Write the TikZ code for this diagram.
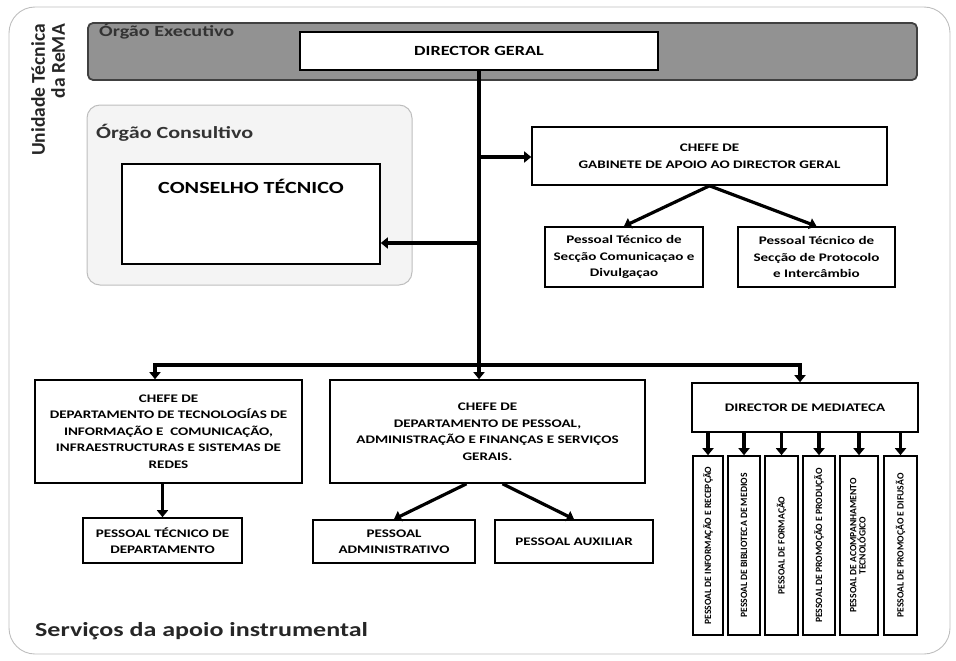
\documentclass[tikz,border=0pt]{standalone}
\usepackage{fontspec}
\usepackage{graphicx}
\newfontfamily\orgfont{Carlito}[FakeStretch=1.3]
\newfontfamily\orgplain{Carlito}
\usetikzlibrary{arrows.meta,shadows}
\definecolor{bandgray}{RGB}{146,146,146}
\definecolor{panelgray}{RGB}{244,244,244}
\definecolor{framegray}{RGB}{190,190,190}
\tikzset{
  box/.style={draw=black, line width=1.6pt, fill=white, align=center, inner sep=2pt,
    font=\orgfont\bfseries\fontsize{11.6}{16.5}\selectfont,
    drop shadow={shadow xshift=1.4pt, shadow yshift=-1.4pt, fill=black!65, opacity=1}},
  colbox/.style={box, font=\orgplain\bfseries\fontsize{9.6}{10}\selectfont, minimum height=179},
  link/.style={line width=3.4pt, line cap=butt},
  arr/.style={line width=3.2pt, -{Triangle[length=7pt,width=11pt]}},
  heading/.style={inner sep=0pt, text=black!85}
}
\begin{document}
\begin{tikzpicture}[x=1pt,y=-1pt]
\useasboundingbox (0,0) rectangle (956,661);
% outer frame of the unit
\draw[framegray, line width=0.9pt, rounded corners=26pt] (9,7) rectangle (950,654);
\node[heading, rotate=90, anchor=east, align=right,
  font=\orgplain\bfseries\fontsize{19.5}{20}\selectfont] (unit) at (48,24)
  {Unidade Técnica\\da ReMA};

% executive band
\node[fill=bandgray, draw=black!75, line width=1.8pt, rounded corners=5pt,
  minimum width=829, minimum height=57, inner sep=0pt] (exec) at (502.5,51.5) {};
\node[heading, anchor=base west, font=\orgfont\bfseries\fontsize{15.5}{17}\selectfont,
  text=black!80] (execlbl) at (99,37) {Órgão Executivo};
\node[box, minimum width=358, minimum height=38, font=\orgfont\bfseries\fontsize{14}{16}\selectfont]
  (dg) at (479,51) {DIRECTOR GERAL};

% consultative body
\node[fill=panelgray, draw=framegray, line width=1pt, rounded corners=13pt,
  minimum width=325, minimum height=180, inner sep=0pt] (consult) at (249.5,195) {};
\node[heading, anchor=base west, font=\orgfont\bfseries\fontsize{17}{19}\selectfont,
  text=black!80] (consultlbl) at (96,138) {Órgão Consultivo};
\node[box, minimum width=258, minimum height=100,
  label={[name=cttext, anchor=north, yshift=-12pt, font=\orgfont\bfseries\fontsize{17}{19}\selectfont]north:CONSELHO TÉCNICO}]
  (ct) at (251,214) {};

% cabinet
\node[box, minimum width=355, minimum height=58] (gab) at (709.5,156)
  {CHEFE DE\\GABINETE DE APOIO AO DIRECTOR GERAL};
\node[box, minimum width=158, minimum height=60] (pc1) at (624,257)
  {Pessoal Técnico de\\Secção Comunicaçao e\\Divulgaçao};
\node[box, minimum width=157, minimum height=60] (pc2) at (816.5,257)
  {Pessoal Técnico de\\Secção de Protocolo\\e Intercâmbio};

% departments
\node[box, minimum width=267, minimum height=103] (ti) at (168.5,431.5)
  {CHEFE DE\\DEPARTAMENTO DE TECNOLOGÍAS DE\\INFORMAÇÃO E \ COMUNICAÇÃO,\\INFRAESTRUCTURAS E SISTEMAS DE\\REDES};
\node[box, minimum width=159, minimum height=45] (ptd) at (162.5,540.5)
  {PESSOAL TÉCNICO DE\\DEPARTAMENTO};
\node[box, minimum width=315, minimum height=103] (pa) at (487.5,431.5)
  {CHEFE DE\\DEPARTAMENTO DE PESSOAL,\\ADMINISTRAÇÃO E FINANÇAS E SERVIÇOS\\GERAIS.};
\node[box, minimum width=162, minimum height=43] (padm) at (394,541.5)
  {PESSOAL\\ADMINISTRATIVO};
\node[box, minimum width=158, minimum height=43] (paux) at (574,541.5)
  {PESSOAL AUXILIAR};

% media library
\node[box, minimum width=226, minimum height=49] (med) at (805,407.5)
  {DIRECTOR DE MEDIATECA};
\node[colbox, minimum width=30] (m1) at (708,545.5)
  {\rotatebox{90}{PESSOAL DE INFORMAÇÃO E RECEPÇÃO}};
\node[colbox, minimum width=32] (m2) at (744,545.5)
  {\rotatebox{90}{PESSOAL DE BIBLIOTECA DE MEDIOS}};
\node[colbox, minimum width=33] (m3) at (781.5,545.5)
  {\rotatebox{90}{PESSOAL DE FORMAÇÃO}};
\node[colbox, minimum width=32] (m4) at (819,545.5)
  {\rotatebox{90}{PESSOAL DE PROMOÇÃO E PRODUÇÃO}};
\node[colbox, minimum width=38] (m5) at (859,545.5)
  {\rotatebox{90}{\begin{tabular}{@{}c@{}}PESSOAL DE ACOMPANHAMENTO\\[-2pt]TECNOLÓGICO\end{tabular}}};
\node[colbox, minimum width=33] (m6) at (900.5,545.5)
  {\rotatebox{90}{PESSOAL DE PROMOÇÃO E DIFUSÃO}};

\node[heading, anchor=base west, font=\orgfont\bfseries\fontsize{20}{22}\selectfont,
  text=black!85] (serv) at (35,636) {Serviços da apoio instrumental};

% connectors
\coordinate (busL) at (155,365);
\coordinate (busM) at (479,365);
\coordinate (busR) at (800,365);
\coordinate (jg) at (479,157);
\coordinate (jc) at (479,243);
\draw[link] (dg.south) -- (busM);
\draw[link] (busL) -- (busR);
\draw[arr] (jg) -- (jg -| gab.west);
\draw[arr] (jc) -- (jc -| ct.east);
\draw[arr] (gab.south) -- (pc1.north);
\draw[arr] (gab.south) -- (pc2.north);
\draw[arr] ([yshift=1.7pt]busL) -- (busL |- ti.north);
\draw[arr] ([yshift=1.7pt]busM) -- (busM |- pa.north);
\draw[arr] ([yshift=1.7pt]busR) -- (busR |- med.north);
\draw[arr] (ptd.north |- ti.south) -- (ptd.north);
\draw[arr] ([xshift=-21pt]pa.south) -- (padm.north);
\draw[arr] ([xshift=15pt]pa.south) -- (paux.north);
\foreach \c in {m1,m2,m3,m4,m5,m6}
  \draw[arr] (\c.north |- med.south) -- (\c.north);
\end{tikzpicture}
\end{document}
